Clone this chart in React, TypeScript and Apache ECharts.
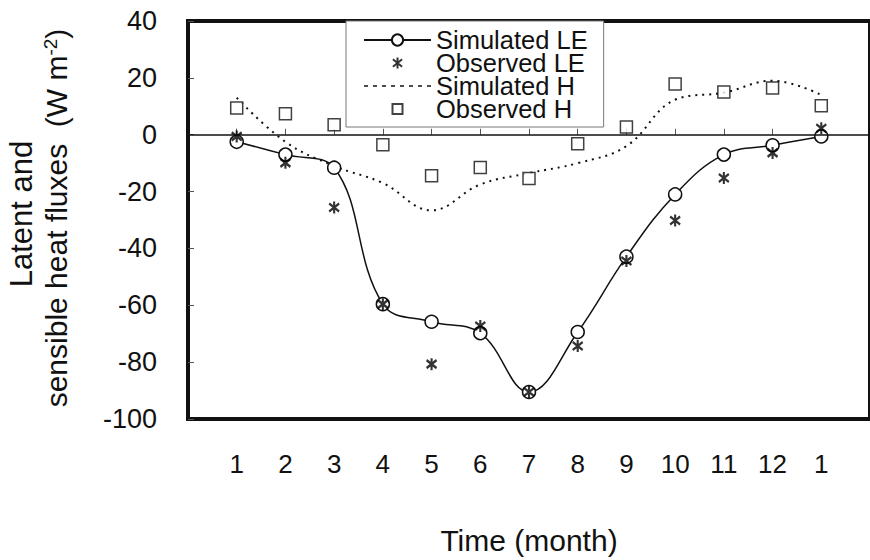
import { useEffect, useRef } from "react";
import * as echarts from "echarts";

const months = [1, 2, 3, 4, 5, 6, 7, 8, 9, 10, 11, 12, 13];
const monthLabels = ["1", "2", "3", "4", "5", "6", "7", "8", "9", "10", "11", "12", "1"];
const simulatedLE = [-2.5, -7, -11.6, -59.6, -65.8, -69.8, -90.5, -69.4, -42.9, -21, -7, -3.7, -0.6];
const observedLE = [-0.6, -9.9, -25.6, -59.6, -80.7, -67.3, -90.5, -74.3, -44.4, -30.2, -15.2, -6.4, 2.3];
const simulatedH = [13, -2.5, -11, -17, -26.6, -17.5, -13.5, -10, -4, 12.3, 14.8, 19, 14];
const observedH = [9.4, 7.4, 3.5, -3.5, -14.4, -11.5, -15.4, -3.2, 2.7, 17.8, 15, 16.4, 10.2];
const yTicks = [40, 20, 0, -20, -40, -60, -80, -100];

const FONT = "'Liberation Sans', Arial, Helvetica, sans-serif";
const INK = "#111";
const STAR = "path://M5,0L5,12M0,2L10,10M0,10L10,2";
const STAR_LEGEND = "path://M-4,-1.6M14,13.6M5,0L5,12M0,2L10,10M0,10L10,2";
const SQUARE_LEGEND = "path://M-2,-2M12,12M0,0H10V10H0Z";

const pairs = (ys: number[]) => months.map((m, i) => [m, ys[i]]);

export default function App() {
  const ref = useRef<HTMLDivElement>(null);
  useEffect(() => {
    if (!ref.current) return;
    const chart = echarts.init(ref.current, undefined, { renderer: "svg" });
    chart.setOption({
      animation: false,
      backgroundColor: "#fff",
      grid: {
        left: 188,
        top: 21,
        width: 683,
        height: 399,
        show: true,
        borderColor: INK,
        borderWidth: 4,
        containLabel: false,
      },
      legend: {
        orient: "vertical",
        left: 346,
        top: 21,
        padding: [6, 16, 5, 17],
        itemWidth: 67,
        itemHeight: 14,
        itemGap: -3,
        borderColor: "#777",
        borderWidth: 1,
        backgroundColor: "#fff",
        textStyle: { fontFamily: FONT, fontSize: 25.5, color: INK, lineHeight: 25 },
        data: [
          { name: "Simulated LE" },
          { name: "Observed LE", icon: STAR_LEGEND },
          {
            name: "Simulated H",
            itemStyle: { color: "transparent", borderColor: "transparent", borderWidth: 0 },
            lineStyle: { type: [4, 5], width: 1.5, color: INK },
          },
          { name: "Observed H", icon: SQUARE_LEGEND },
        ],
      },
      xAxis: {
        type: "value",
        min: 0,
        max: 14,
        interval: 1,
        axisLine: { show: false },
        splitLine: { show: false },
        axisTick: { show: true, inside: true, length: 6, lineStyle: { color: "#555", width: 1 } },
        axisLabel: {
          margin: 32,
          fontSize: 26,
          fontFamily: FONT,
          color: INK,
          showMinLabel: false,
          showMaxLabel: false,
          formatter: (v: number) => (v >= 1 && v <= 13 ? monthLabels[v - 1] : ""),
        },
        name: "Time (month)",
        nameLocation: "middle",
        nameGap: 106,
        nameTextStyle: { fontSize: 30, fontFamily: FONT, color: INK },
      },
      yAxis: {
        type: "value",
        min: yTicks[yTicks.length - 1],
        max: yTicks[0],
        interval: 20,
        axisLine: { show: false },
        splitLine: { show: false },
        axisTick: { show: true, inside: true, length: 6, lineStyle: { color: "#555", width: 1 } },
        axisLabel: { margin: 31, fontSize: 27, fontFamily: FONT, color: INK },
      },
      graphic: [
        {
          type: "text",
          x: 21,
          y: 214,
          rotation: Math.PI / 2,
          style: {
            text: "Latent and",
            fontSize: 31,
            fontFamily: FONT,
            fill: INK,
            align: "center",
            verticalAlign: "middle",
          },
        },
        {
          type: "text",
          x: 56,
          y: 218,
          rotation: Math.PI / 2,
          style: {
            text: "{a|sensible heat fluxes  (W m}{s|-2}{a|)}",
            fill: INK,
            align: "center",
            verticalAlign: "middle",
            rich: {
              a: { fontSize: 30, fontFamily: FONT, fill: INK },
              s: { fontSize: 19, fontFamily: FONT, fill: INK, verticalAlign: "top" },
            },
          },
        },
      ],
      series: [
        {
          name: "Simulated LE",
          type: "line",
          data: pairs(simulatedLE),
          smooth: 0.4,
          symbol: "circle",
          symbolSize: 13,
          itemStyle: { color: "#fff", borderColor: INK, borderWidth: 1.5 },
          lineStyle: { color: INK, width: 1.5 },
          z: 3,
          markLine: {
            silent: true,
            symbol: ["none", "none"],
            label: { show: false },
            lineStyle: { color: INK, width: 1.5, type: "solid" },
            data: [{ yAxis: 0 }],
          },
        },
        {
          name: "Observed LE",
          type: "scatter",
          data: pairs(observedLE),
          symbol: STAR,
          symbolSize: [10, 12],
          itemStyle: { color: "transparent", borderColor: "#000", borderWidth: 2.3 },
          z: 4,
        },
        {
          name: "Simulated H",
          type: "line",
          data: pairs(simulatedH),
          smooth: 0.4,
          symbol: "none",
          showSymbol: false,
          itemStyle: { color: INK },
          lineStyle: { color: INK, width: 2, type: [2, 5] },
          z: 2,
        },
        {
          name: "Observed H",
          type: "scatter",
          data: pairs(observedH),
          symbol: "rect",
          symbolSize: 12,
          itemStyle: { color: "#fff", borderColor: INK, borderWidth: 1.5 },
          z: 4,
        },
      ],
    });
    return () => chart.dispose();
  }, []);
  return (
    <div
      ref={ref}
      style={{ position: "fixed", left: 0, top: 0, width: 870, height: 560, background: "#fff" }}
    />
  );
}
